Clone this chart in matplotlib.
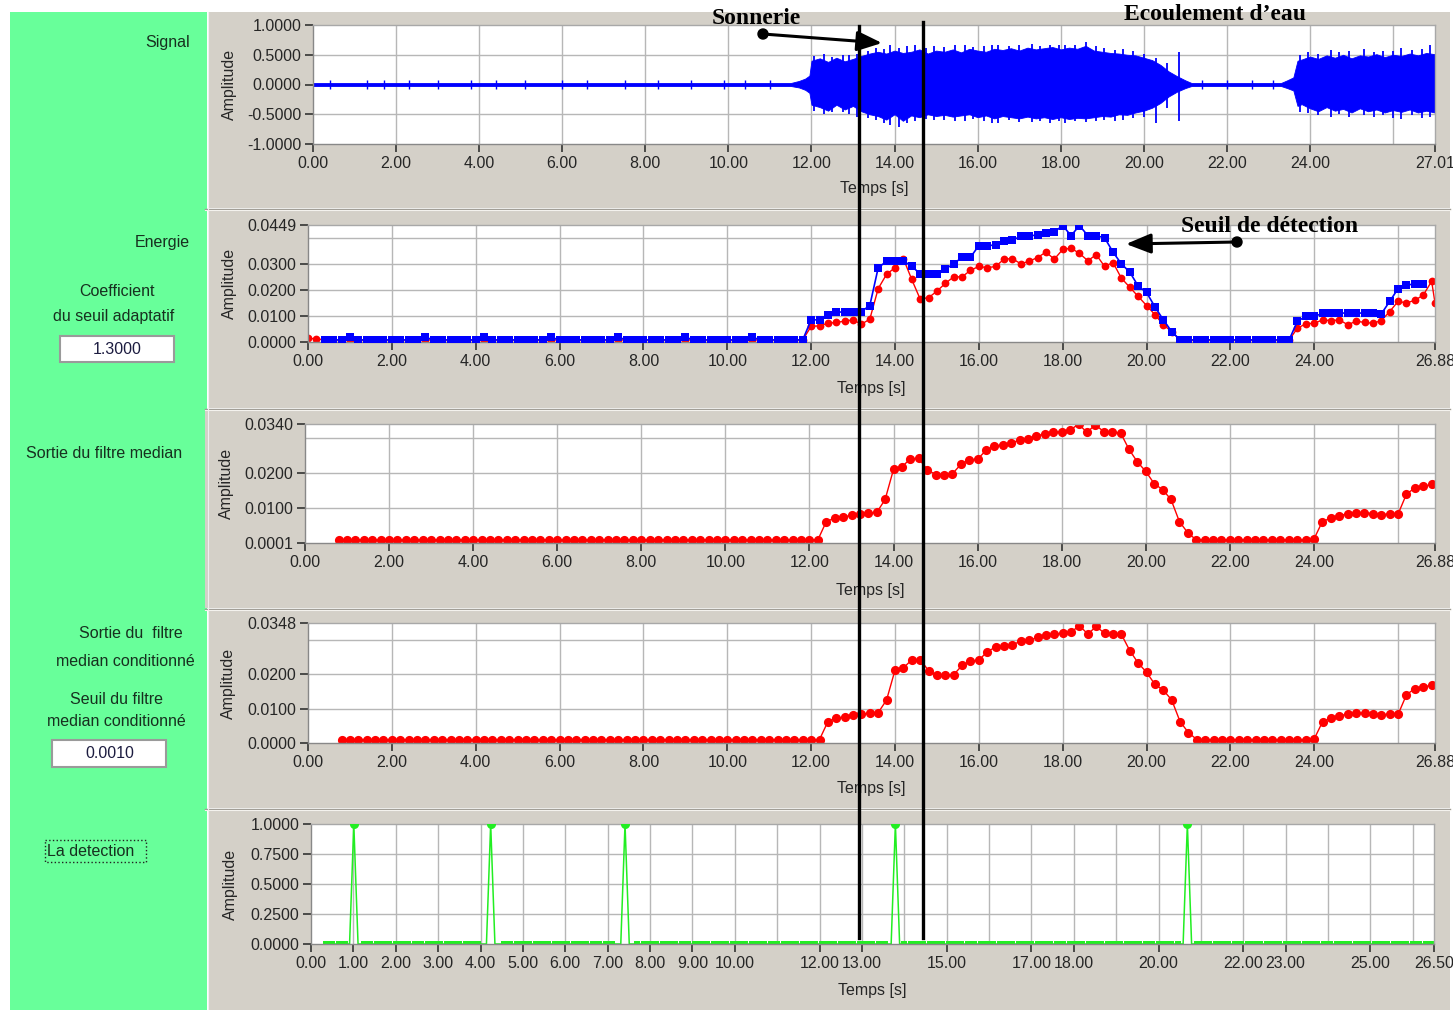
import numpy as np
import matplotlib
matplotlib.use("Agg")
import matplotlib.pyplot as plt
import matplotlib.transforms as mtransforms
from matplotlib.patches import Rectangle, FancyArrowPatch, Circle
from matplotlib.lines import Line2D

plt.rcParams['font.family'] = ['Liberation Sans', 'DejaVu Sans']

# ---------------- signal: envelope of the recorded waveform (s, amplitude)
sig_t = [0.0, 11.5, 11.7, 11.85, 11.95,
         12.0, 12.2, 12.4, 12.6, 12.8, 13.0, 13.2, 13.4, 13.6, 13.8,
         14.0, 14.2, 14.4, 14.6, 14.8, 15.0, 15.2, 15.4, 15.6, 15.8,
         16.0, 16.2, 16.4, 16.6, 16.8, 17.0, 17.2, 17.4, 17.6, 17.8,
         18.0, 18.2, 18.4, 18.6, 18.8, 19.0, 19.2, 19.4, 19.6, 19.8,
         20.0, 20.2, 20.4, 20.6, 20.8, 21.0,
         21.15, 23.3, 23.45, 23.6, 23.7,
         23.8, 24.0, 24.2, 24.4, 24.6, 24.8, 25.0, 25.2, 25.4, 25.6,
         25.8, 26.0, 26.2, 26.4, 26.6, 26.8, 27.0]
sig_hi = [0.025, 0.025, 0.06, 0.10, 0.15,
          0.40, 0.44, 0.38, 0.45, 0.39, 0.43, 0.48, 0.52, 0.55, 0.52,
          0.57, 0.53, 0.55, 0.59, 0.52, 0.57, 0.55, 0.59, 0.54, 0.60,
          0.57, 0.55, 0.60, 0.58, 0.61, 0.57, 0.62, 0.59, 0.61, 0.63,
          0.59, 0.62, 0.60, 0.65, 0.57, 0.55, 0.53, 0.52, 0.50, 0.49,
          0.45, 0.41, 0.33, 0.22, 0.14, 0.07,
          0.025, 0.025, 0.07, 0.12, 0.40,
          0.42, 0.47, 0.43, 0.49, 0.45, 0.50, 0.44, 0.49, 0.47, 0.51,
          0.46, 0.50, 0.48, 0.52, 0.49, 0.53, 0.51]
sig_lo = [-0.025, -0.025, -0.05, -0.09, -0.14,
          -0.34, -0.38, -0.44, -0.34, -0.42, -0.36, -0.45, -0.50, -0.53, -0.59,
          -0.50, -0.61, -0.52, -0.55, -0.50, -0.53, -0.51, -0.54, -0.52, -0.50,
          -0.55, -0.52, -0.57, -0.53, -0.55, -0.57, -0.54, -0.57, -0.55, -0.58,
          -0.55, -0.58, -0.56, -0.57, -0.55, -0.53, -0.54, -0.50, -0.51, -0.47,
          -0.44, -0.39, -0.31, -0.20, -0.12, -0.06,
          -0.025, -0.025, -0.06, -0.10, -0.36,
          -0.33, -0.40, -0.45, -0.38, -0.44, -0.41, -0.47, -0.40, -0.45, -0.42,
          -0.47, -0.43, -0.46, -0.42, -0.47, -0.44, -0.47]
# peaks sticking out of the envelope
spike_t = [12.05, 12.3, 12.5, 12.75, 12.9, 13.1, 13.35, 13.55, 13.75, 13.9, 14.1, 14.3,
           14.5, 14.75, 14.95, 15.2, 15.45, 15.7, 15.9, 16.15, 16.35, 16.5, 16.75, 17.0,
           17.3, 17.5, 17.75, 17.95, 18.1, 18.35, 18.6, 18.85, 19.05, 19.3, 19.5, 19.75,
           20.0, 20.3, 20.55, 20.85, 23.75, 23.95, 24.2, 24.5, 24.7, 24.95, 25.3, 25.55,
           25.75, 26.0, 26.2, 26.45, 26.7, 26.9]
spike_hi = [0.48, 0.52, 0.46, 0.50, 0.50, 0.52, 0.56, 0.62, 0.60, 0.66, 0.62, 0.64,
            0.66, 0.62, 0.64, 0.63, 0.66, 0.66, 0.63, 0.64, 0.66, 0.67, 0.64, 0.66,
            0.68, 0.65, 0.67, 0.66, 0.67, 0.66, 0.72, 0.64, 0.62, 0.58, 0.60, 0.56,
            0.52, 0.45, 0.36, 0.55, 0.50, 0.54, 0.52, 0.58, 0.54, 0.56, 0.60, 0.55,
            0.57, 0.56, 0.62, 0.58, 0.60, 0.66]
spike_lo = [-0.44, -0.50, -0.47, -0.46, -0.50, -0.54, -0.56, -0.60, -0.64, -0.68, -0.72, -0.64,
            -0.62, -0.58, -0.60, -0.59, -0.62, -0.62, -0.58, -0.62, -0.64, -0.64, -0.60, -0.63,
            -0.63, -0.62, -0.64, -0.61, -0.64, -0.62, -0.63, -0.61, -0.60, -0.62, -0.60, -0.56,
            -0.55, -0.64, -0.40, -0.62, -0.46, -0.48, -0.52, -0.55, -0.50, -0.54, -0.52, -0.55,
            -0.52, -0.56, -0.58, -0.52, -0.56, -0.55]
# small clicks in the quiet parts
click_t = [0.4, 1.3, 1.7, 2.3, 3.0, 3.8, 4.4, 5.1, 6.0, 6.6, 7.5, 8.3,
           9.1, 9.9, 10.4, 11.0, 21.4, 22.0, 22.6, 23.1]
click_amp = 0.07

# ---------------- energy and adaptive threshold, one frame every 0.2 s
t_energy = np.round(np.arange(0, 26.81, 0.2), 2)
energy = ([0.0014, 0.0012] + [0.0008] * 58 +
          [0.0060, 0.0062, 0.0072, 0.0075, 0.0080, 0.0085, 0.0068, 0.0088, 0.0205, 0.0260,
           0.0285, 0.0320, 0.0240, 0.0165, 0.0170, 0.0195, 0.0225, 0.0250, 0.0250, 0.0275,
           0.0290, 0.0285, 0.0290, 0.0318, 0.0320, 0.0300, 0.0310, 0.0324, 0.0345, 0.0318,
           0.0355, 0.0360, 0.0340, 0.0312, 0.0335, 0.0290, 0.0305, 0.0245, 0.0210, 0.0175,
           0.0140, 0.0105, 0.0066, 0.0040] +
          [0.0008] * 14 +
          [0.0053, 0.0070, 0.0072, 0.0085, 0.0082, 0.0085, 0.0066, 0.0080, 0.0075, 0.0072,
           0.0082, 0.0117, 0.0156, 0.0150, 0.0160, 0.0180, 0.0233])
energy_end_t, energy_end = 26.88, 0.0150

threshold = ([np.nan, np.nan] +
             [0.0008] * 3 + [0.0018] + [0.0008] * 8 + [0.0018] + [0.0008] * 6 +
             [0.0018] + [0.0008] * 7 + [0.0018] + [0.0008] * 7 + [0.0018] +
             [0.0008] * 7 + [0.0018] + [0.0008] * 7 + [0.0018] + [0.0008] * 6 +
             [0.0085, 0.0085, 0.0105, 0.0115, 0.0115, 0.0115, 0.0117, 0.0140, 0.0285, 0.0310,
              0.0312, 0.0310, 0.0292, 0.0260, 0.0260, 0.0262, 0.0280, 0.0300, 0.0325, 0.0325,
              0.0370, 0.0370, 0.0372, 0.0388, 0.0390, 0.0406, 0.0408, 0.0410, 0.0420, 0.0422,
              0.0447, 0.0408, 0.0447, 0.0408, 0.0408, 0.0400, 0.0345, 0.0300, 0.0268, 0.0215,
              0.0190, 0.0135, 0.0085, 0.0040] +
             [0.0008] * 14 + [0.0080] +
             [0.0098, 0.0098, 0.0110, 0.0110, 0.0112, 0.0110, 0.0110, 0.0112, 0.0110, 0.0108,
              0.0156, 0.0205, 0.0220, 0.0221, 0.0222] +
             [np.nan])

# ---------------- median filter outputs
t_median = np.round(np.arange(0.8, 26.81, 0.2), 2)
median_out = ([0.0010] * 58 +
              [0.0062, 0.0072, 0.0075, 0.0080, 0.0084, 0.0086, 0.0088, 0.0125,
               0.0211, 0.0218, 0.0241, 0.0242, 0.0210, 0.0196, 0.0196, 0.0198, 0.0225, 0.0238,
               0.0240, 0.0265, 0.0278, 0.0280, 0.0285, 0.0295, 0.0298, 0.0306, 0.0312, 0.0316,
               0.0318, 0.0322, 0.0340, 0.0316, 0.0338, 0.0318, 0.0316, 0.0315, 0.0268, 0.0232,
               0.0205, 0.0170, 0.0153, 0.0125, 0.0062, 0.0030] +
              [0.0010] * 14 +
              [0.0012, 0.0062, 0.0072, 0.0078, 0.0085, 0.0086, 0.0087, 0.0085, 0.0082, 0.0084,
               0.0083, 0.0140, 0.0158, 0.0162, 0.0168])
median_cond = list(median_out)

# ---------------- detection output
det_peaks = [1.01, 4.24, 7.41, 13.79, 20.68]
det_start, det_end, det_step = 0.35, 26.5, 0.15

# ---------------- figure, laid out in screen pixels
W, H = 1453, 1010
fig = plt.figure(figsize=(W / 100, H / 100), dpi=100)
fig.patch.set_facecolor('white')
pix = mtransforms.Affine2D().scale(1 / W, -1 / H).translate(0, 1) + fig.transFigure

GREEN_BG = '#68ff9a'
GRAY_BG = '#d4d0c8'
GRID = '#b7b7b7'
INK = '#262626'
LABEL_INK = '#17301f'


def block(x0, y0, x1, y1, face, edge='none', lw=0, ls='-', z=-2):
    fig.add_artist(Rectangle((x0, y0), x1 - x0, y1 - y0, transform=pix,
                             facecolor=face, edgecolor=edge, linewidth=lw,
                             linestyle=ls, zorder=z))


def hline(x0, x1, y, color, lw=1, z=-1):
    fig.add_artist(Line2D([x0, x1], [y, y], transform=pix, color=color, lw=lw, zorder=z))


def ptext(x, y, s, **kw):
    kw.setdefault('fontsize', 11.5)
    kw.setdefault('color', INK)
    kw.setdefault('va', 'center')
    return fig.text(x, y, s, transform=pix, **kw)


# backgrounds
block(10, 12, 207, 1010, GREEN_BG)
block(208, 12, 1450, 208, GRAY_BG)
block(208, 210, 1450, 408, GRAY_BG)
block(205, 410, 1450, 608, GRAY_BG)
block(208, 610, 1450, 808, GRAY_BG)
block(208, 810, 1450, 1010, GRAY_BG)
for y in (209, 409, 609, 809):
    hline(205, 1450, y - 0.5, '#9d9a92', lw=1)
    hline(205, 1450, y + 1, '#f4f2ee', lw=0.8)
fig.add_artist(Line2D([207.5, 207.5], [12, 1010], transform=pix, color='#f0f0f0', lw=0.8, zorder=-1))


def plot_area(x0, y0, x1, y1):
    ax = fig.add_axes([x0 / W, 1 - y1 / H, (x1 - x0) / W, (y1 - y0) / H])
    ax.set_facecolor('white')
    for s in ax.spines.values():
        s.set_color('#a8a8a8')
        s.set_linewidth(1)
    ax.spines['left'].set_color('#888888')
    ax.spines['bottom'].set_color('#888888')
    ax.tick_params(direction='out', length=5.5, width=1.2, color='#333333',
                   labelsize=11.5, labelcolor=INK, pad=3)
    return ax


def frame(ax, xmax, xticks, xgrid, ylo, yhi, yticks, ygrid):
    ax.set_xlim(0, xmax)
    ax.set_ylim(ylo, yhi)
    ax.set_xticks(xticks, ['%.2f' % v for v in xticks])
    ax.set_yticks(yticks, ['%.4f' % v for v in yticks])
    for g in xgrid:
        ax.axvline(g, color=GRID, lw=1, zorder=0.5)
    for g in ygrid:
        ax.axhline(g, color=GRID, lw=1, zorder=0.5)


even_ticks = list(range(0, 25, 2))
even_grid = list(range(2, 27, 2))
RED, BLUE, GREEN = '#ff0000', '#0000ff', '#22ee22'

# panel 1: signal
ax1 = plot_area(313, 25, 1435, 144)
frame(ax1, 27.01, even_ticks + [27.01], even_grid, -1.0, 1.0,
      [-1.0, -0.5, 0.0, 0.5, 1.0], [-0.5, 0.0, 0.5])
ax1.fill_between(sig_t, sig_lo, sig_hi, color=BLUE, lw=0.6, zorder=2)
ax1.vlines(spike_t, spike_lo, spike_hi, color=BLUE, lw=1.3, zorder=2)
ax1.vlines(click_t, -click_amp, click_amp, color=BLUE, lw=1, zorder=2)

# panel 2: energy and threshold
ax2 = plot_area(308, 225, 1435, 342)
frame(ax2, 26.88, even_ticks + [26.88], even_grid, 0.0, 0.0449,
      [0.0, 0.01, 0.02, 0.03, 0.0449], [0.01, 0.02, 0.03, 0.04])
ax2.plot(np.r_[t_energy, energy_end_t], energy + [energy_end], color=RED,
         lw=1, marker='o', ms=5.6, mew=0, zorder=2)
ax2.plot(t_energy, threshold, color=BLUE, lw=1.2, marker='s', ms=5.8, mew=0, zorder=3)

# panel 3: median filter
ax3 = plot_area(305, 424, 1435, 543)
frame(ax3, 26.88, even_ticks + [26.88], even_grid, 0.0001, 0.034,
      [0.0001, 0.01, 0.02, 0.034], [0.01, 0.02, 0.03])
ax3.plot(t_median, median_out, color=RED, lw=1, marker='o', ms=6.6, mew=0, zorder=2)

# panel 4: conditioned median filter
ax4 = plot_area(308, 623, 1435, 743)
frame(ax4, 26.88, even_ticks + [26.88], even_grid, 0.0, 0.0348,
      [0.0, 0.01, 0.02, 0.0348], [0.01, 0.02, 0.03])
ax4.plot(t_median, median_cond, color=RED, lw=1, marker='o', ms=6.6, mew=0, zorder=2)

# panel 5: detection
ax5 = plot_area(311, 824, 1434, 944)
det_ticks = [0, 1, 2, 3, 4, 5, 6, 7, 8, 9, 10, 12, 13, 15, 17, 18, 20, 22, 23, 25, 26.5]
frame(ax5, 26.5, det_ticks, list(range(1, 27)), 0.0, 1.0,
      [0.0, 0.25, 0.5, 0.75, 1.0], [0.25, 0.5, 0.75])
peaks = np.array(det_peaks)
clock = np.round(np.arange(det_start, det_end + 0.01, det_step), 2)
base_t = clock[np.min(np.abs(clock[:, None] - peaks[None, :]), axis=1) > 0.2]
det_t = np.sort(np.r_[base_t, peaks - 0.1, peaks, peaks + 0.1])
det_v = np.isin(det_t, peaks).astype(float)
ax5.plot(det_t, det_v, color=GREEN, lw=1.1, zorder=2)
ax5.plot(base_t, np.zeros_like(base_t), 's', color=GREEN, ms=4.3, mew=0, zorder=2)
ax5.plot(peaks, np.ones_like(peaks), 'o', color=GREEN, ms=6.5, mew=0, zorder=3)

# axis titles
for ax, xc, yc, xt in [(ax1, 229, 84, 189), (ax2, 229, 283, 389), (ax3, 226, 483, 590),
                       (ax4, 228, 683, 788), (ax5, 230, 884, 991)]:
    bb = ax.get_position()
    ptext(xc, yc, 'Amplitude', rotation=90, ha='center')
    ptext((bb.x0 + bb.width / 2) * W, xt, 'Temps [s]', ha='center')

# control labels on the left
ptext(190, 42, 'Signal', ha='right', color=LABEL_INK)
ptext(190, 242, 'Energie', ha='right', color=LABEL_INK)
ptext(117, 291, 'Coefficient', ha='center', color=LABEL_INK)
ptext(114, 317, 'du seuil adaptatif', ha='center', color=LABEL_INK)
block(60, 336, 174, 362, 'white', edge='#9a9a9a', lw=1.5, z=-1)
ptext(117, 349, '1.3000', ha='center', color='#1c1c40')
ptext(26, 453, 'Sortie du filtre median', ha='left', color=LABEL_INK)
ptext(131, 633, 'Sortie du  filtre', ha='center', color=LABEL_INK)
ptext(125, 661, 'median conditionné', ha='center', color=LABEL_INK)
ptext(117, 700, 'Seuil du filtre', ha='center', color=LABEL_INK)
ptext(116, 722, 'median conditionné', ha='center', color=LABEL_INK)
block(52, 740, 166, 767, 'white', edge='#9a9a9a', lw=1.5, z=-1)
ptext(110, 754, '0.0010', ha='center', color='#1c1c40')
ptext(47, 851, 'La detection', ha='left', color=LABEL_INK)
block(45, 840, 146, 862, 'none', edge='#222222', lw=1, ls=':', z=1)

# event markers drawn across all the graphs
sonnerie_t, ecoulement_t = 13.14, 14.68
vtrans = mtransforms.blended_transform_factory(ax1.transData, pix)
fig.add_artist(Line2D([sonnerie_t, sonnerie_t], [26, 938], transform=vtrans,
                      color='black', lw=2.4, zorder=6))
fig.add_artist(Line2D([ecoulement_t, ecoulement_t], [22, 938], transform=vtrans,
                      color='black', lw=2.4, zorder=6))


def pointer(x0, y0, x1, y1):
    fig.add_artist(FancyArrowPatch((x0, y0), (x1, y1), transform=pix,
                                   arrowstyle='-|>,head_length=0.95,head_width=0.38',
                                   mutation_scale=16, lw=2.2, color='black',
                                   shrinkA=0, shrinkB=0, zorder=7))
    fig.add_artist(Circle((x0, y0), 5, transform=pix, color='black', zorder=7))


serif = dict(family=['Liberation Serif', 'DejaVu Serif'], fontsize=17,
             fontweight='bold', color='black', ha='center', zorder=8)
ptext(756, 18, 'Sonnerie', **serif)
ptext(1215, 15, 'Ecoulement d\u2019eau', **serif)
ptext(1270, 226, 'Seuil de détection', **serif)
pointer(763, 34, 882, 43)
pointer(1237, 242, 1126, 244)

fig.savefig('out.png', dpi=100, facecolor='white')
